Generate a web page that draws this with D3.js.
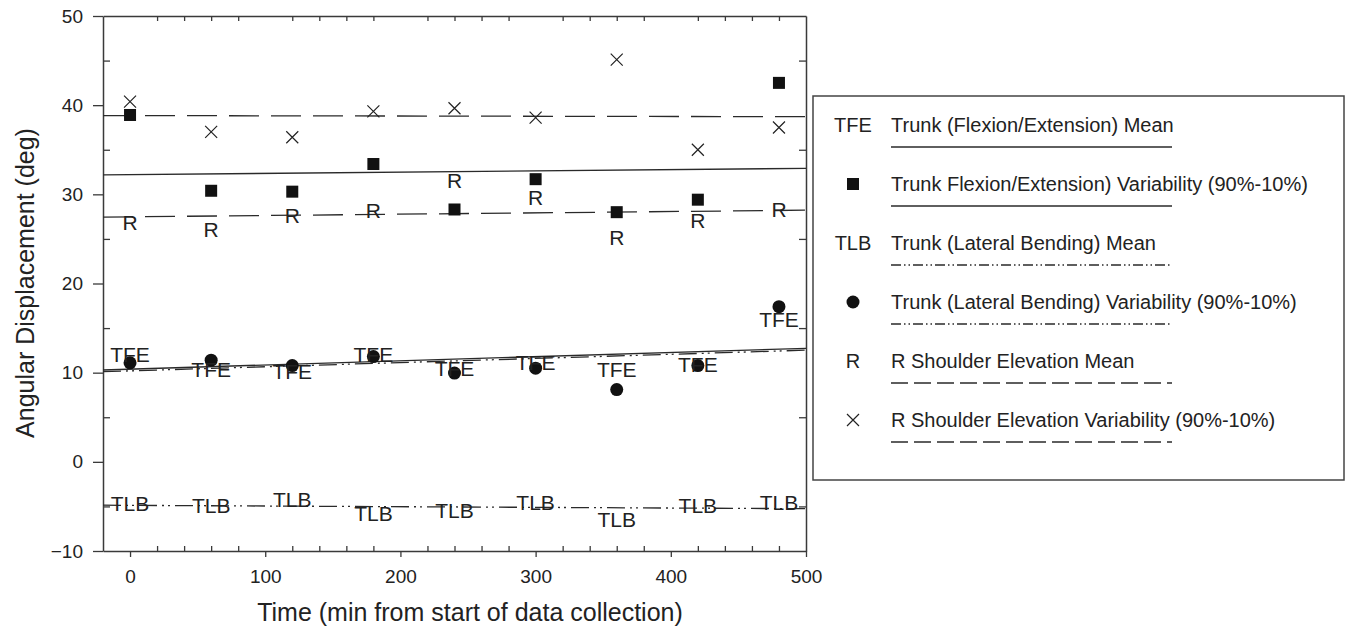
<!DOCTYPE html>
<html>
<head>
<meta charset="utf-8">
<script src="https://cdn.jsdelivr.net/npm/d3@7"></script>
<style>
  body { margin: 0; background: #fff; }
  text { font-family: "Liberation Sans", Arial, sans-serif; fill: #222; }
</style>
</head>
<body>
<div id="chart"></div>
<script>
// sample times (min)
var times = [0, 60, 120, 180, 240, 300, 360, 420, 480];
// values (deg)
var tfeMean = [12.1, 10.4, 10.1, 12.1, 10.5, 11.1, 10.4, 10.95, 16.0];
var tfeVar  = [38.9, 30.4, 30.3, 33.4, 28.3, 31.7, 28.0, 29.4, 42.5];
var tlbMean = [-4.7, -4.9, -4.2, -5.8, -5.5, -4.5, -6.5, -4.9, -4.55];
var tlbVar  = [11.1, 11.4, 10.8, 11.8, 9.95, 10.5, 8.1, 10.8, 17.4];
var rseMean = [26.8, 26.1, 27.6, 28.2, 31.6, 29.7, 25.2, 27.05, 28.25];
var rseVar  = [40.4, 37.0, 36.4, 39.3, 39.65, 38.6, 45.1, 35.0, 37.5];

var xMajor = [0, 100, 200, 300, 400, 500];
var yMajor = [-10, 0, 10, 20, 30, 40, 50];

var legendLabels = [
  'Trunk (Flexion/Extension) Mean',
  'Trunk Flexion/Extension) Variability (90%-10%)',
  'Trunk (Lateral Bending) Mean',
  'Trunk (Lateral Bending) Variability (90%-10%)',
  'R Shoulder Elevation Mean',
  'R Shoulder Elevation Variability (90%-10%)'
];

var svgwidth = 1357, svgheight = 631;

var svg = d3.select('#chart').append('svg')
  .attr('width', svgwidth)
  .attr('height', svgheight);

var x = d3.scaleLinear().domain([-20, 500]).range([103, 806]);
var y = d3.scaleLinear().domain([-10, 50]).range([551, 16]);

var dashed = '30,12',
    dashDot = '18,5,2,4,2,5';

// minor tick positions (every 20 / every 5, skipping majors)
var xMinor = d3.range(20, 500, 20).filter(function(v) { return v % 100 !== 0; });
var yMinor = d3.range(-5, 50, 10);

var axisColor = '#3a3a3a';

function styleAxis(g) {
  g.selectAll('path').attr('stroke', axisColor).attr('stroke-width', 1.5);
  g.selectAll('line').attr('stroke', axisColor).attr('stroke-width', 1.3);
  g.selectAll('text').attr('font-size', 19).attr('fill', '#222')
    .attr('font-family', '"Liberation Sans", Arial, sans-serif');
}

// bottom axis
svg.append('g').attr('transform', 'translate(0,551)')
  .call(d3.axisBottom(x).tickValues(xMajor).tickSize(6).tickPadding(13).tickSizeOuter(0))
  .call(styleAxis);
svg.append('g').attr('transform', 'translate(0,551)')
  .call(d3.axisBottom(x).tickValues(xMinor).tickSize(-5).tickFormat(''))
  .call(function(g) { g.select('.domain').remove(); })
  .call(styleAxis);
// top axis
svg.append('g').attr('transform', 'translate(0,16)')
  .call(d3.axisTop(x).tickValues(xMinor).tickSize(-5).tickSizeOuter(0).tickFormat(''))
  .call(styleAxis);
// left axis
svg.append('g').attr('transform', 'translate(103,0)')
  .call(d3.axisLeft(y).tickValues(yMajor).tickSize(10).tickPadding(10).tickSizeOuter(0))
  .call(styleAxis);
svg.append('g').attr('transform', 'translate(103,0)')
  .call(d3.axisLeft(y).tickValues(yMinor).tickSize(-7).tickFormat(''))
  .call(function(g) { g.select('.domain').remove(); })
  .call(styleAxis);
// right axis
svg.append('g').attr('transform', 'translate(806,0)')
  .call(d3.axisRight(y).tickValues(yMinor).tickSize(-7).tickSizeOuter(0).tickFormat(''))
  .call(styleAxis);

// axis titles
svg.append('text')
  .attr('x', 470).attr('y', 621)
  .attr('text-anchor', 'middle')
  .attr('font-size', 25)
  .text('Time (min from start of data collection)');
svg.append('text')
  .attr('transform', 'translate(34,283) rotate(-90)')
  .attr('text-anchor', 'middle')
  .attr('font-size', 25)
  .text('Angular Displacement (deg)');

// least squares line over the x domain
function fitLine(vals) {
  var mx = d3.mean(times), my = d3.mean(vals);
  var sxy = d3.sum(times, function(t, i) { return (t - mx) * (vals[i] - my); });
  var sxx = d3.sum(times, function(t) { return (t - mx) * (t - mx); });
  var b = sxy / sxx, a = my - b * mx;
  return x.domain().map(function(t) { return [t, a + b * t]; });
}

var line = d3.line()
  .x(function(d) { return x(d[0]); })
  .y(function(d) { return y(d[1]); });

var plot = svg.append('g');

var fits = [
  {vals: tfeVar,  dash: null},
  {vals: tfeMean, dash: null},
  {vals: tlbVar,  dash: dashDot},
  {vals: tlbMean, dash: dashDot},
  {vals: rseVar,  dash: dashed},
  {vals: rseMean, dash: dashed}
];
fits.forEach(function(f) {
  plot.append('path')
    .datum(fitLine(f.vals))
    .attr('fill', 'none')
    .attr('stroke', '#2a2a2a')
    .attr('stroke-width', 1.3)
    .attr('stroke-dasharray', f.dash)
    .attr('d', line);
});

function pts(vals) {
  return times.map(function(t, i) { return {t: t, v: vals[i]}; });
}

// squares
plot.selectAll('rect.sq').data(pts(tfeVar)).enter().append('rect')
  .attr('class', 'sq')
  .attr('x', function(d) { return x(d.t) - 6; })
  .attr('y', function(d) { return y(d.v) - 6; })
  .attr('width', 12).attr('height', 12)
  .attr('fill', '#111');

// circles
plot.selectAll('circle').data(pts(tlbVar)).enter().append('circle')
  .attr('cx', function(d) { return x(d.t); })
  .attr('cy', function(d) { return y(d.v); })
  .attr('r', 6.5)
  .attr('fill', '#111');

// crosses
plot.selectAll('path.x').data(pts(rseVar)).enter().append('path')
  .attr('class', 'x')
  .attr('d', function(d) {
    var cx = x(d.t), cy = y(d.v), r = 6;
    return 'M' + (cx - r) + ',' + (cy - r) + 'L' + (cx + r) + ',' + (cy + r) +
           'M' + (cx - r) + ',' + (cy + r) + 'L' + (cx + r) + ',' + (cy - r);
  })
  .attr('stroke', '#222').attr('stroke-width', 1.2).attr('fill', 'none');

// text markers
[[tfeMean, 'TFE'], [tlbMean, 'TLB'], [rseMean, 'R']].forEach(function(s) {
  plot.selectAll(null).data(pts(s[0])).enter().append('text')
    .attr('x', function(d) { return x(d.t); })
    .attr('y', function(d) { return y(d.v); })
    .attr('dy', '0.36em')
    .attr('text-anchor', 'middle')
    .attr('font-size', 21)
    .text(s[1]);
});

// legend
var legend = svg.append('g');
legend.append('rect')
  .attr('x', 813).attr('y', 96)
  .attr('width', 531).attr('height', 384)
  .attr('fill', 'none').attr('stroke', '#444').attr('stroke-width', 1.5);

var legendDash = [null, null, '10,3,1.5,3,1.5,3', '10,3,1.5,3,1.5,3', '17,6', '17,6'];
var legendSym = ['TFE', 'square', 'TLB', 'circle', 'R', 'cross'];

legendLabels.forEach(function(lbl, i) {
  var ly = 125 + i * 59, sx = 853;
  var s = legendSym[i];
  if (s === 'square') {
    legend.append('rect').attr('x', sx - 6).attr('y', ly - 6)
      .attr('width', 12).attr('height', 12).attr('fill', '#111');
  } else if (s === 'circle') {
    legend.append('circle').attr('cx', sx).attr('cy', ly).attr('r', 6.5).attr('fill', '#111');
  } else if (s === 'cross') {
    legend.append('path')
      .attr('d', 'M' + (sx - 6) + ',' + (ly - 6) + 'L' + (sx + 6) + ',' + (ly + 6) +
                 'M' + (sx - 6) + ',' + (ly + 6) + 'L' + (sx + 6) + ',' + (ly - 6))
      .attr('stroke', '#222').attr('stroke-width', 1.2);
  } else {
    legend.append('text').attr('x', sx).attr('y', ly).attr('dy', '0.36em')
      .attr('text-anchor', 'middle').attr('font-size', 20).text(s);
  }
  legend.append('text')
    .attr('x', 891).attr('y', ly).attr('dy', '0.36em')
    .attr('font-size', 20)
    .text(lbl);
  legend.append('line')
    .attr('x1', 891).attr('x2', 1172)
    .attr('y1', ly + 22).attr('y2', ly + 22)
    .attr('stroke', '#2a2a2a').attr('stroke-width', 1.3)
    .attr('stroke-dasharray', legendDash[i]);
});
</script>
</body>
</html>
